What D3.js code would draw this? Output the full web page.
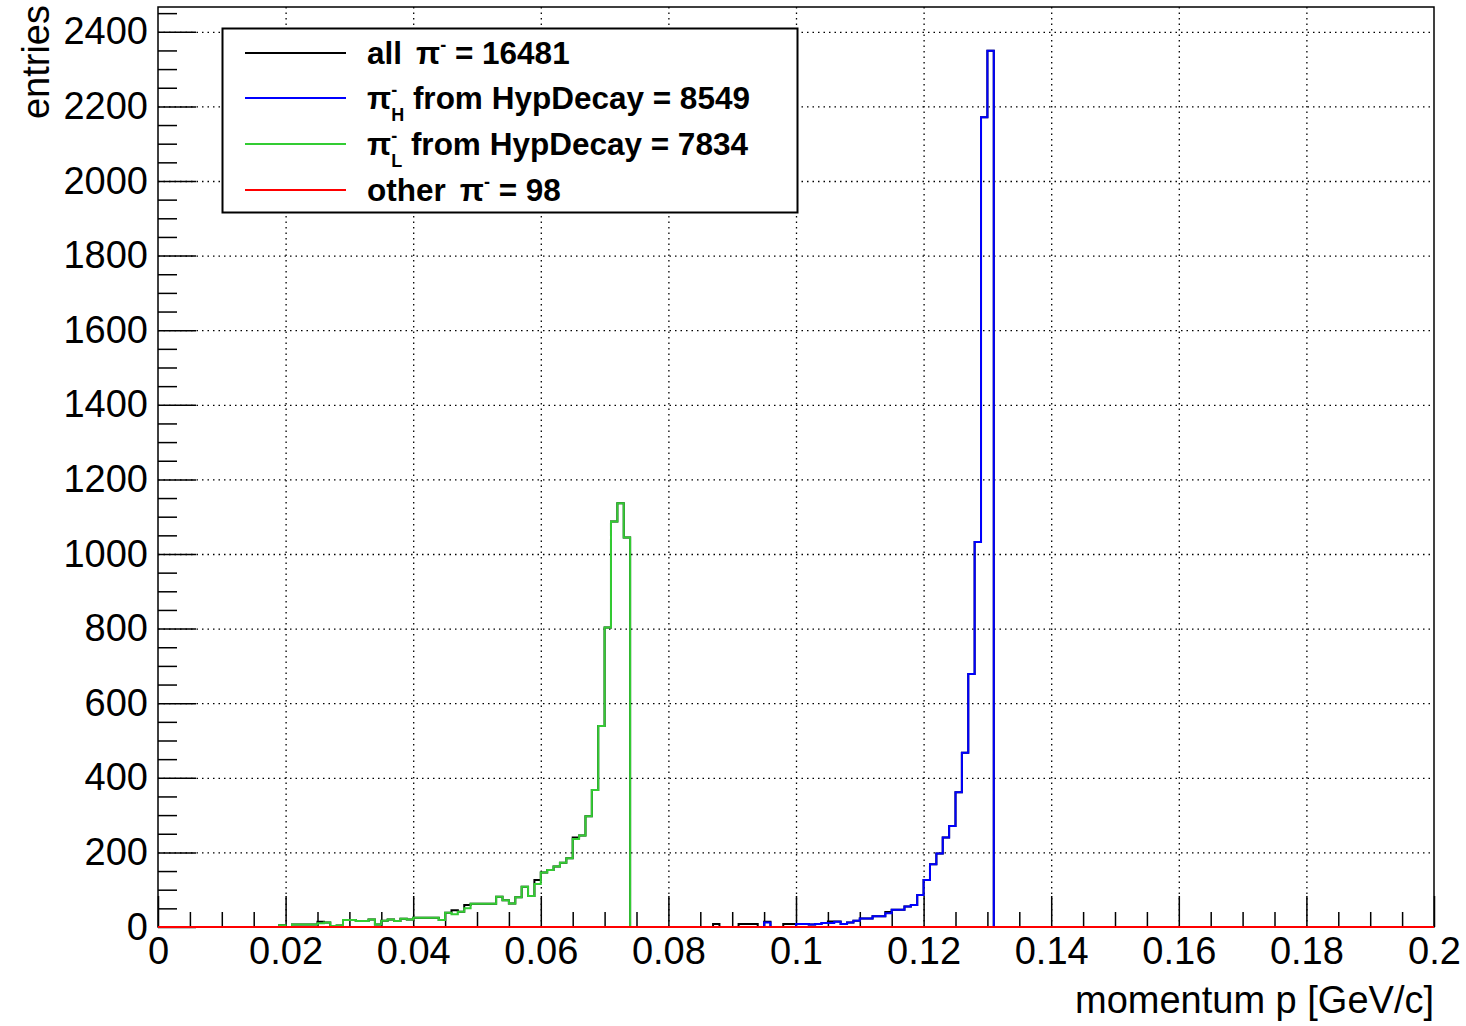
<!DOCTYPE html>
<html>
<head>
<meta charset="utf-8">
<script src="https://cdn.jsdelivr.net/npm/d3@7"></script>
<style>
  body { margin: 0; background: #fff; }
  text { font-family: "Liberation Sans", Arial, Helvetica, sans-serif; }
  .grid line { stroke: #000; stroke-width: 1.3; stroke-dasharray: 1.5 4; }
  .grid .domain { display: none; }
  .axis .domain { display: none; }
  .axis line { stroke: #000; stroke-width: 1.5; }
</style>
</head>
<body>
<div id="container"></div>
<script>
// histogram: 200 bins of 0.001 GeV/c from 0 to 0.2, counts
const binWidth = 0.001;
const nBins = 200;

// all pi- (black)
const allStart = 19;
const allCounts = [5, 0, 7, 7, 7, 7, 14, 12, 3, 4, 19, 19, 16, 16, 20, 7, 17, 20, 16, 22,
  20, 25, 25, 25, 25, 19, 38, 45, 41, 59, 62, 62, 62, 62, 81, 72, 63, 80, 108, 83,
  126, 146, 153, 162, 172, 184, 240, 245, 297, 367, 539, 803, 1087, 1136, 1044,
  0, 0, 0, 0, 0, 0, 0, 0, 0, 0, 0, 0, 0,
  8, 0, 0, 0, 8, 8, 8, 0, 14, 0, 0, 8, 8,
  8, 8, 7, 8, 11, 15, 15, 8, 12, 17, 23, 23, 29, 29, 40, 46, 46, 55, 59, 86,
  126, 168, 197, 240, 271, 361, 467, 678, 1032, 2171, 2349];

// pi-_H from HypDecay (blue)
const hStart = 95;
const hCounts = [12, 0, 0, 0, 0, 8, 8, 7, 8, 11, 11, 14, 8, 12, 17, 23, 23, 29, 29, 37,
  46, 46, 55, 59, 86, 126, 168, 197, 240, 271, 361, 467, 678, 1032, 2171, 2349];

// pi-_L from HypDecay (green)
const lStart = 19;
const lCounts = [5, 0, 7, 7, 7, 7, 10, 12, 3, 4, 19, 19, 16, 16, 20, 7, 17, 20, 16, 22,
  20, 25, 25, 25, 25, 19, 38, 34, 41, 50, 62, 62, 62, 62, 81, 72, 63, 80, 108, 83,
  115, 146, 153, 162, 172, 184, 236, 245, 297, 367, 539, 803, 1087, 1136, 1044];

// other pi- (red): no bin rises visibly above zero inside the range
const otherStart = 0;
const otherCounts = [];

const legendLabels = [
  { main: "all", pi: true, sup: "-", sub: "", rest: " = 16481", color: "#000000" },
  { main: "", pi: false, sup: "-", sub: "H", rest: " from HypDecay = 8549", color: "#0000ff" },
  { main: "", pi: false, sup: "-", sub: "L", rest: " from HypDecay = 7834", color: "#33cc33" },
  { main: "other", pi: true, sup: "-", sub: "", rest: " = 98", color: "#ff0000" }
];

const xTicks = [0, 0.02, 0.04, 0.06, 0.08, 0.1, 0.12, 0.14, 0.16, 0.18, 0.2];
const yTicks = [0, 200, 400, 600, 800, 1000, 1200, 1400, 1600, 1800, 2000, 2200, 2400];

const width = 1466;
const height = 1026;
const margin = { top: 7, right: 32, bottom: 99, left: 158 };
const yMax = 2349 * 1.05;

const svg = d3.select("#container").append("svg")
  .attr("width", width)
  .attr("height", height);

const x = d3.scaleLinear()
  .domain([0, 0.2])
  .range([margin.left, width - margin.right]);

const y = d3.scaleLinear()
  .domain([0, yMax])
  .range([height - margin.bottom, margin.top]);

// grid
svg.append("g")
  .attr("class", "grid")
  .attr("transform", `translate(0,${height - margin.bottom})`)
  .call(d3.axisBottom(x).tickValues(xTicks.slice(1, -1))
    .tickSize(-(height - margin.top - margin.bottom)).tickFormat(""));

svg.append("g")
  .attr("class", "grid")
  .attr("transform", `translate(${margin.left},0)`)
  .call(d3.axisLeft(y).tickValues(yTicks.slice(1))
    .tickSize(-(width - margin.left - margin.right)).tickFormat(""));

// frame
svg.append("rect")
  .attr("x", margin.left)
  .attr("y", margin.top)
  .attr("width", width - margin.left - margin.right)
  .attr("height", height - margin.top - margin.bottom)
  .attr("fill", "none")
  .attr("stroke", "#000")
  .attr("stroke-width", 1.5);

// minor ticks
const xMinor = d3.range(0, 41).map(i => i * 0.005).filter((v, i) => i % 4 !== 0);
const yMinor = d3.range(0, 50).map(i => i * 50).filter((v, i) => i % 4 !== 0);

svg.append("g")
  .attr("class", "axis")
  .attr("transform", `translate(0,${height - margin.bottom})`)
  .call(d3.axisBottom(x).tickValues(xMinor).tickSize(-15).tickFormat(""));

svg.append("g")
  .attr("class", "axis")
  .attr("transform", `translate(${margin.left},0)`)
  .call(d3.axisLeft(y).tickValues(yMinor).tickSize(-19).tickFormat(""));

// major ticks + labels
const xAxis = svg.append("g")
  .attr("class", "axis")
  .attr("transform", `translate(0,${height - margin.bottom})`)
  .call(d3.axisBottom(x).tickValues(xTicks).tickSize(-31)
    .tickFormat(d => d3.format("~g")(d)));
xAxis.selectAll("text")
  .attr("y", 10)
  .style("font-size", "38px")
  .attr("fill", "#000");

const yAxis = svg.append("g")
  .attr("class", "axis")
  .attr("transform", `translate(${margin.left},0)`)
  .call(d3.axisLeft(y).tickValues(yTicks).tickSize(-38).tickFormat(d3.format("d")));
yAxis.selectAll("text")
  .attr("x", -10)
  .style("font-size", "38px")
  .attr("fill", "#000");

// histograms
function histPoints(start, counts) {
  const pts = [];
  for (let k = 0; k < nBins; k++) {
    const i = k - start;
    const v = i >= 0 && i < counts.length ? counts[i] : 0;
    pts.push([k * binWidth, v]);
  }
  pts.push([nBins * binWidth, pts[pts.length - 1][1]]);
  return pts;
}

const histLine = d3.line()
  .x(d => x(d[0]))
  .y(d => y(d[1]))
  .curve(d3.curveStepAfter);

const series = [
  { start: allStart, counts: allCounts, color: "#000000" },
  { start: hStart, counts: hCounts, color: "#0000ff" },
  { start: lStart, counts: lCounts, color: "#33cc33" },
  { start: otherStart, counts: otherCounts, color: "#ff0000" }
];

svg.append("g").selectAll("path")
  .data(series)
  .enter().append("path")
  .attr("fill", "none")
  .attr("stroke", d => d.color)
  .attr("stroke-width", 2)
  .attr("d", d => histLine(histPoints(d.start, d.counts)));

// axis titles
svg.append("text")
  .attr("x", 1434)
  .attr("y", 1013)
  .attr("text-anchor", "end")
  .style("font-size", "38px")
  .text("momentum p [GeV/c]");

svg.append("text")
  .attr("transform", `translate(49,5) rotate(-90)`)
  .attr("text-anchor", "end")
  .style("font-size", "38px")
  .text("entries");

// legend
const legend = svg.append("g");
legend.append("rect")
  .attr("x", 222.5).attr("y", 28.5)
  .attr("width", 575).attr("height", 184)
  .attr("fill", "#fff")
  .attr("stroke", "#000")
  .attr("stroke-width", 2);

const rowY = [53, 98, 144, 190];
legendLabels.forEach((d, i) => {
  legend.append("line")
    .attr("x1", 245).attr("x2", 346)
    .attr("y1", rowY[i]).attr("y2", rowY[i])
    .attr("stroke", d.color)
    .attr("stroke-width", 2);
  const t = legend.append("text")
    .attr("x", 367)
    .attr("y", rowY[i] + 11)
    .style("font-size", "31.5px")
    .style("font-weight", "bold");
  if (d.main) t.append("tspan").text(d.main);
  t.append("tspan").attr("dx", d.main ? 14 : 0).text("π");
  t.append("tspan").attr("dy", -13).style("font-size", "18px").text(d.sup);
  if (d.sub) {
    t.append("tspan").attr("dx", -6).attr("dy", 25).style("font-size", "18px").text(d.sub);
    t.append("tspan").attr("dy", -12).text(d.rest);
  } else {
    t.append("tspan").attr("dy", 13).text(d.rest);
  }
});
</script>
</body>
</html>
